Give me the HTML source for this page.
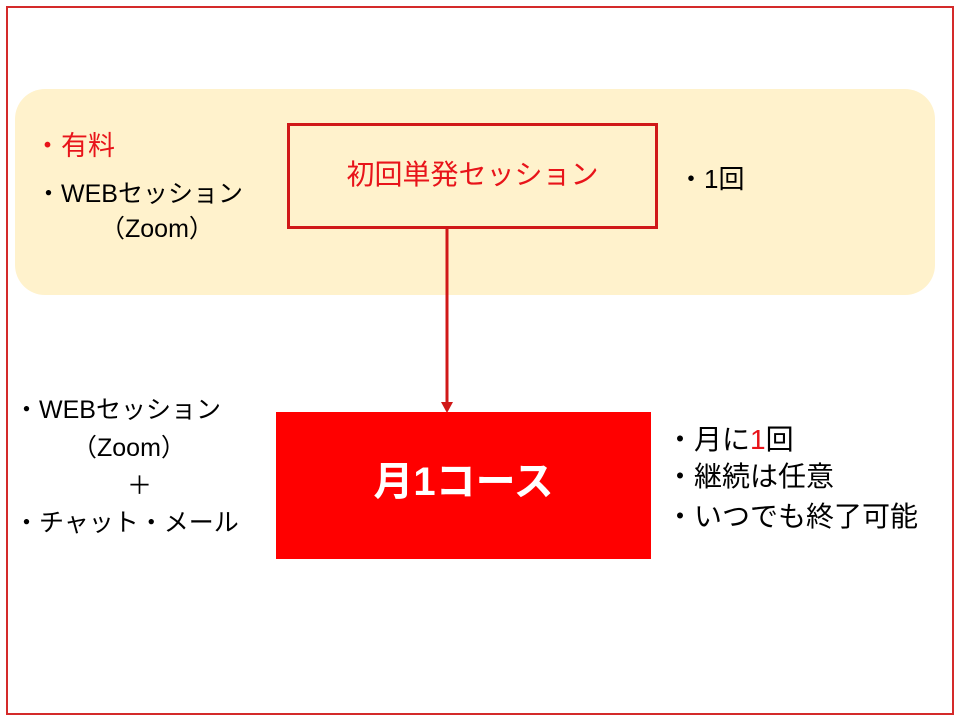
<!DOCTYPE html>
<html><head><meta charset="utf-8"><style>
body{margin:0;width:960px;height:720px;background:#fff;position:relative;overflow:hidden;font-family:"Liberation Sans","Noto Sans CJK JP",sans-serif;}
div{position:absolute;}
.t{font-size:25px;line-height:30px;color:#000;white-space:nowrap;}
.b{font-size:28px;line-height:34px;color:#000;white-space:nowrap;}
.r{color:#e8141a;}
</style></head><body>
<div style="left:6px;top:6px;width:944px;height:705px;border:2px solid #d42a2a;"></div>
<div style="left:15px;top:89px;width:920px;height:206px;background:#fff2cc;border-radius:30px;"></div>
<div style="left:287px;top:123px;width:365px;height:100px;border:3px solid #d01818;"></div>
<div class="b r" style="left:287px;top:158px;width:371px;text-align:center;">初回単発セッション</div>
<div class="b r" style="left:34px;top:129px;font-size:27px;">・有料</div>
<div class="t" style="left:36px;top:179px;">・WEBセッション</div>
<div class="t" style="left:100px;top:214px;">（Zoom）</div>
<div class="t" style="left:678px;top:164px;font-size:26px;">・1回</div>
<svg style="position:absolute;left:0;top:0" width="960" height="720">
<line x1="447" y1="227" x2="447" y2="404" stroke="#d01818" stroke-width="3"/>
<polygon points="441,402 453,402 447,413" fill="#d01818"/>
</svg>
<div style="left:276px;top:412px;width:375px;height:147px;background:#ff0000;"></div>
<div style="left:276px;top:459px;width:375px;text-align:center;color:#fff;font-weight:bold;font-size:40px;line-height:46px;">月1コース</div>
<div class="t" style="left:14px;top:395px;">・WEBセッション</div>
<div class="t" style="left:72px;top:433px;">（Zoom）</div>
<div class="t" style="left:127px;top:471px;">＋</div>
<div class="t" style="left:14px;top:508px;">・チャット・メール</div>
<div class="b" style="left:666px;top:423px;">・月に<span class="r">1</span>回</div>
<div class="b" style="left:666px;top:460px;">・継続は任意</div>
<div class="b" style="left:666px;top:500px;">・いつでも終了可能</div>
</body></html>
